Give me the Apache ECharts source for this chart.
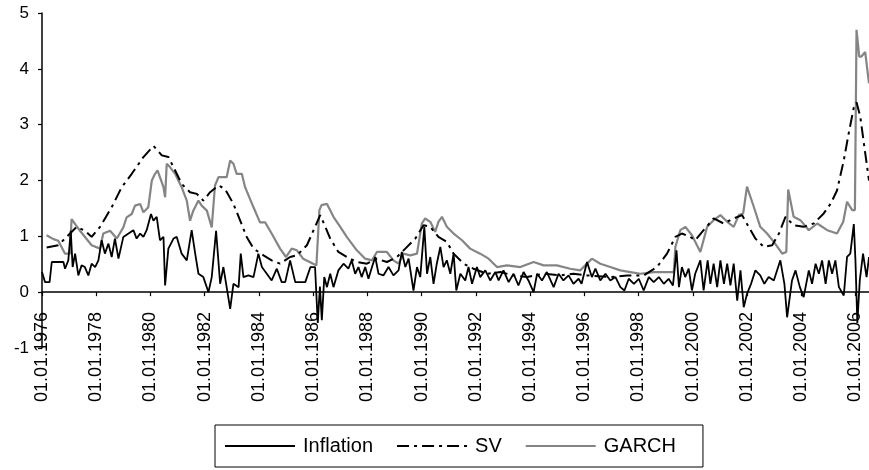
<!DOCTYPE html>
<html>
<head>
<meta charset="utf-8">
<script src="https://cdn.jsdelivr.net/npm/echarts@6/dist/echarts.min.js"></script>
<style>
  html, body { margin: 0; padding: 0; background: #fff; }
  #chart { width: 869px; height: 470px; }
</style>
</head>
<body>
<div id="chart"></div>
<script>
// tick years on the x axis (label = 01.01.year)
const xTickYears = [1976, 1978, 1980, 1982, 1984, 1986, 1988, 1990, 1992, 1994, 1996, 1998, 2000, 2002, 2004, 2006];
const yTicks = [-1, 0, 1, 2, 3, 4, 5];
const seriesNames = ['Inflation', 'SV', 'GARCH'];

// [year, value]
const inflation = [
  [1976.00, 0.36], [1976.11, 0.18], [1976.28, 0.18], [1976.36, 0.54], [1976.79, 0.54], [1976.85, 0.42],
  [1976.97, 0.57], [1977.06, 1.10], [1977.13, 0.45], [1977.22, 0.69], [1977.34, 0.30], [1977.46, 0.48],
  [1977.58, 0.45], [1977.71, 0.30], [1977.83, 0.51], [1977.96, 0.45], [1978.08, 0.57], [1978.20, 0.93],
  [1978.32, 0.69], [1978.45, 0.87], [1978.57, 0.63], [1978.69, 0.96], [1978.82, 0.60], [1979.00, 0.99],
  [1979.19, 1.05], [1979.37, 1.11], [1979.49, 0.96], [1979.62, 1.05], [1979.74, 0.99], [1979.86, 1.11],
  [1980.02, 1.40], [1980.11, 1.28], [1980.23, 1.35], [1980.35, 0.93], [1980.48, 0.99], [1980.54, 0.12],
  [1980.66, 0.78], [1980.85, 0.96], [1980.97, 0.99], [1981.15, 0.69], [1981.34, 0.57], [1981.52, 1.11],
  [1981.65, 0.69], [1981.77, 0.33], [1981.95, 0.27], [1982.14, 0.00], [1982.26, 0.27], [1982.42, 1.10],
  [1982.57, 0.15], [1982.69, 0.45], [1982.81, 0.09], [1982.94, -0.30], [1983.06, 0.15], [1983.25, 0.09],
  [1983.33, 0.69], [1983.43, 0.27], [1983.61, 0.30], [1983.80, 0.27], [1983.98, 0.69], [1984.11, 0.45],
  [1984.29, 0.33], [1984.47, 0.21], [1984.66, 0.42], [1984.84, 0.18], [1984.97, 0.18], [1985.15, 0.57],
  [1985.34, 0.18], [1985.71, 0.18], [1985.90, 0.45], [1986.07, 0.45], [1986.17, -0.55], [1986.25, 0.10],
  [1986.32, -0.50], [1986.41, 0.27], [1986.51, 0.09], [1986.63, 0.33], [1986.75, 0.09], [1986.93, 0.39],
  [1987.12, 0.51], [1987.30, 0.42], [1987.42, 0.57], [1987.55, 0.33], [1987.67, 0.45], [1987.79, 0.27],
  [1987.92, 0.45], [1988.04, 0.24], [1988.17, 0.45], [1988.29, 0.63], [1988.41, 0.33], [1988.59, 0.30],
  [1988.78, 0.45], [1988.96, 0.30], [1989.15, 0.39], [1989.27, 0.72], [1989.40, 0.45], [1989.52, 0.60],
  [1989.70, 0.03], [1989.83, 0.45], [1989.95, 0.27], [1990.10, 1.17], [1990.20, 0.33], [1990.32, 0.63],
  [1990.44, 0.15], [1990.56, 0.51], [1990.69, 0.81], [1990.81, 0.45], [1990.93, 0.57], [1991.06, 0.33],
  [1991.18, 0.69], [1991.28, 0.03], [1991.43, 0.33], [1991.61, 0.21], [1991.73, 0.45], [1991.86, 0.15],
  [1992.04, 0.45], [1992.16, 0.27], [1992.35, 0.39], [1992.53, 0.21], [1992.72, 0.36], [1992.84, 0.21],
  [1993.02, 0.39], [1993.21, 0.18], [1993.39, 0.33], [1993.57, 0.12], [1993.76, 0.36], [1993.94, 0.21],
  [1994.13, 0.00], [1994.26, 0.33], [1994.44, 0.21], [1994.62, 0.36], [1994.87, 0.09], [1995.05, 0.33],
  [1995.23, 0.21], [1995.42, 0.30], [1995.60, 0.15], [1995.79, 0.24], [1995.90, 0.15], [1996.10, 0.54],
  [1996.28, 0.27], [1996.41, 0.42], [1996.59, 0.21], [1996.78, 0.33], [1996.96, 0.21], [1997.15, 0.27],
  [1997.33, 0.09], [1997.48, 0.03], [1997.64, 0.24], [1997.83, 0.15], [1998.01, 0.24], [1998.19, 0.03],
  [1998.38, 0.27], [1998.56, 0.18], [1998.75, 0.27], [1998.93, 0.15], [1999.11, 0.24], [1999.27, 0.12],
  [1999.40, 0.75], [1999.49, 0.09], [1999.60, 0.45], [1999.72, 0.27], [1999.85, 0.42], [1999.97, 0.03],
  [2000.09, 0.33], [2000.28, 0.57], [2000.40, 0.03], [2000.55, 0.57], [2000.65, 0.15], [2000.77, 0.51],
  [2000.90, 0.09], [2001.02, 0.57], [2001.15, 0.15], [2001.27, 0.51], [2001.39, 0.12], [2001.51, 0.51],
  [2001.64, -0.15], [2001.76, 0.39], [2001.88, -0.27], [2002.00, -0.03], [2002.15, 0.15], [2002.31, 0.39],
  [2002.49, 0.30], [2002.64, 0.15], [2002.80, 0.27], [2002.99, 0.21], [2003.23, 0.57], [2003.38, 0.15],
  [2003.48, -0.45], [2003.66, 0.21], [2003.79, 0.39], [2003.95, 0.09], [2004.09, -0.09], [2004.28, 0.39],
  [2004.40, 0.15], [2004.53, 0.51], [2004.65, 0.33], [2004.77, 0.57], [2004.90, 0.15], [2005.02, 0.57],
  [2005.14, 0.33], [2005.26, 0.57], [2005.39, 0.09], [2005.57, -0.06], [2005.69, 0.63], [2005.81, 0.69],
  [2005.94, 1.22], [2006.00, 0.57], [2006.07, -0.55], [2006.16, 0.21], [2006.28, 0.69], [2006.41, 0.27],
  [2006.50, 0.63]
];

const sv = [
  [1976.17, 0.80], [1976.60, 0.84], [1976.97, 1.02], [1977.28, 1.17], [1977.59, 1.10], [1977.83, 0.99],
  [1978.14, 1.17], [1978.57, 1.52], [1978.94, 1.88], [1979.31, 2.12], [1979.74, 2.42], [1980.11, 2.62],
  [1980.42, 2.45], [1980.66, 2.42], [1980.91, 2.18], [1981.15, 1.94], [1981.46, 1.79], [1981.71, 1.76],
  [1981.95, 1.64], [1982.20, 1.79], [1982.51, 1.91], [1982.75, 1.85], [1983.06, 1.58], [1983.31, 1.28],
  [1983.55, 0.99], [1983.80, 0.78], [1984.17, 0.66], [1984.47, 0.57], [1984.78, 0.51], [1985.15, 0.63],
  [1985.40, 0.66], [1985.77, 0.84], [1986.07, 1.17], [1986.26, 1.38], [1986.45, 1.17], [1986.63, 0.96],
  [1986.93, 0.72], [1987.24, 0.63], [1987.61, 0.54], [1987.98, 0.51], [1988.35, 0.60], [1988.72, 0.54],
  [1989.09, 0.63], [1989.40, 0.78], [1989.77, 0.96], [1990.07, 1.20], [1990.32, 1.17], [1990.62, 0.99],
  [1990.93, 0.90], [1991.18, 0.69], [1991.55, 0.51], [1991.91, 0.42], [1992.41, 0.33], [1992.90, 0.36],
  [1993.39, 0.30], [1993.89, 0.27], [1994.50, 0.33], [1995.11, 0.30], [1995.60, 0.33], [1996.10, 0.30],
  [1996.96, 0.27], [1997.58, 0.30], [1998.19, 0.30], [1998.68, 0.45], [1999.05, 0.69], [1999.36, 0.99],
  [1999.60, 1.05], [1999.91, 0.99], [2000.09, 0.93], [2000.40, 1.11], [2000.77, 1.32], [2001.14, 1.23],
  [2001.51, 1.32], [2001.82, 1.38], [2002.06, 1.17], [2002.31, 0.96], [2002.62, 0.81], [2002.93, 0.84],
  [2003.18, 1.05], [2003.42, 1.35], [2003.72, 1.20], [2004.09, 1.17], [2004.46, 1.23], [2004.83, 1.41],
  [2005.08, 1.58], [2005.32, 1.82], [2005.57, 2.36], [2005.75, 2.84], [2005.94, 3.31], [2006.04, 3.40],
  [2006.18, 3.14], [2006.33, 2.60], [2006.50, 2.00]
];

const garch = [
  [1976.17, 1.02], [1976.42, 0.95], [1976.60, 0.92], [1976.85, 0.69], [1977.03, 0.69], [1977.09, 1.31],
  [1977.25, 1.20], [1977.40, 1.10], [1977.83, 0.84], [1978.14, 0.78], [1978.26, 1.05], [1978.51, 1.10],
  [1978.76, 0.96], [1979.00, 1.16], [1979.12, 1.34], [1979.31, 1.40], [1979.43, 1.55], [1979.62, 1.58],
  [1979.74, 1.43], [1979.92, 1.52], [1980.05, 2.00], [1980.17, 2.12], [1980.26, 2.18], [1980.35, 2.06],
  [1980.48, 1.88], [1980.54, 1.70], [1980.60, 2.30], [1980.72, 2.24], [1980.91, 2.12], [1981.15, 1.88],
  [1981.34, 1.64], [1981.46, 1.28], [1981.58, 1.46], [1981.77, 1.64], [1981.89, 1.55], [1982.08, 1.46],
  [1982.26, 1.16], [1982.38, 1.91], [1982.51, 2.06], [1982.81, 2.06], [1982.94, 2.36], [1983.06, 2.30],
  [1983.18, 2.12], [1983.37, 2.12], [1983.49, 1.88], [1983.80, 1.52], [1984.04, 1.25], [1984.23, 1.25],
  [1984.47, 1.05], [1984.78, 0.78], [1985.00, 0.63], [1985.21, 0.78], [1985.40, 0.75], [1985.63, 0.60],
  [1986.00, 0.51], [1986.12, 0.48], [1986.23, 1.47], [1986.31, 1.56], [1986.51, 1.58], [1986.75, 1.35],
  [1987.00, 1.17], [1987.24, 0.99], [1987.61, 0.75], [1987.92, 0.60], [1988.17, 0.57], [1988.35, 0.72],
  [1988.72, 0.72], [1988.96, 0.57], [1989.15, 0.51], [1989.33, 0.69], [1989.58, 0.66], [1989.83, 0.69],
  [1990.01, 1.23], [1990.13, 1.32], [1990.32, 1.26], [1990.50, 1.08], [1990.62, 1.26], [1990.75, 1.35],
  [1990.93, 1.17], [1991.18, 1.05], [1991.49, 0.93], [1991.79, 0.78], [1992.16, 0.69], [1992.47, 0.60],
  [1992.78, 0.45], [1993.15, 0.48], [1993.64, 0.45], [1994.13, 0.54], [1994.50, 0.48], [1994.99, 0.48],
  [1995.48, 0.42], [1995.85, 0.39], [1996.28, 0.60], [1996.59, 0.51], [1996.96, 0.45], [1997.33, 0.39],
  [1997.70, 0.36], [1998.07, 0.33], [1998.56, 0.36], [1999.30, 0.36], [1999.36, 0.81], [1999.54, 1.11],
  [1999.73, 1.17], [1999.97, 1.02], [2000.28, 0.72], [2000.53, 1.17], [2000.77, 1.29], [2001.02, 1.38],
  [2001.27, 1.26], [2001.51, 1.17], [2001.70, 1.38], [2001.86, 1.41], [2002.00, 1.89], [2002.25, 1.53],
  [2002.49, 1.17], [2002.74, 1.05], [2002.99, 0.90], [2003.30, 0.69], [2003.45, 0.72], [2003.52, 1.84],
  [2003.72, 1.35], [2003.97, 1.29], [2004.28, 1.11], [2004.59, 1.23], [2004.96, 1.11], [2005.32, 1.05],
  [2005.55, 1.26], [2005.69, 1.62], [2005.88, 1.47], [2005.98, 1.47], [2006.04, 4.70], [2006.09, 4.70],
  [2006.14, 4.22], [2006.22, 4.22], [2006.36, 4.30], [2006.50, 3.74]
];

const font = '"Liberation Sans", Arial, sans-serif';

let myChart = echarts.init(document.getElementById('chart'));

let option = {
  animation: false,
  backgroundColor: '#fff',
  grid: {
    left: 42,
    right: 0,
    top: 13,
    bottom: 122,
    outerBoundsMode: 'none'
  },
  legend: {
    data: seriesNames,
    left: 215,
    top: 425,
    orient: 'horizontal',
    borderColor: '#000',
    borderWidth: 1,
    padding: [11, 27, 11, 9],
    itemGap: 23,
    itemWidth: 70,
    itemHeight: 14,
    itemStyle: { opacity: 0 },
    textStyle: { fontFamily: font, fontSize: 20, color: '#000', padding: [0, 0, 0, 3] }
  },
  xAxis: {
    type: 'value',
    min: 1976,
    max: 2006.5,
    interval: 2,
    axisLine: { onZero: true, lineStyle: { color: '#000', width: 1.5 } },
    axisTick: { show: true, length: 4, lineStyle: { color: '#000', width: 1.2 } },
    axisLabel: {
      rotate: 90,
      // labels sit right under the zero line, not under the grid bottom
      margin: -36,
      fontFamily: font,
      fontSize: 18,
      color: '#000',
      showMaxLabel: false,
      formatter: v => (xTickYears.includes(v) ? '01.01.' + v : '')
    },
    splitLine: { show: false }
  },
  yAxis: {
    type: 'value',
    min: yTicks[0],
    max: yTicks[yTicks.length - 1],
    interval: 1,
    axisLine: { show: true, onZero: false, lineStyle: { color: '#000', width: 1.5 } },
    axisTick: { show: true, length: 4, lineStyle: { color: '#000', width: 1.2 } },
    axisLabel: { fontFamily: font, fontSize: 17, color: '#000', margin: 13 },
    splitLine: { show: false }
  },
  series: [
    {
      name: 'Inflation',
      type: 'line',
      data: inflation,
      symbol: 'none',
      z: 4,
      lineStyle: { color: '#000', width: 1.8 },
      itemStyle: { color: '#000' }
    },
    {
      name: 'SV',
      type: 'line',
      data: sv,
      symbol: 'none',
      z: 3,
      lineStyle: { color: '#000', width: 2, type: [12, 5, 3, 5] },
      itemStyle: { color: '#000' }
    },
    {
      name: 'GARCH',
      type: 'line',
      data: garch,
      symbol: 'none',
      z: 2,
      lineStyle: { color: '#858585', width: 2.2 },
      itemStyle: { color: '#858585' }
    }
  ]
};

option && myChart.setOption(option);
</script>
</body>
</html>
